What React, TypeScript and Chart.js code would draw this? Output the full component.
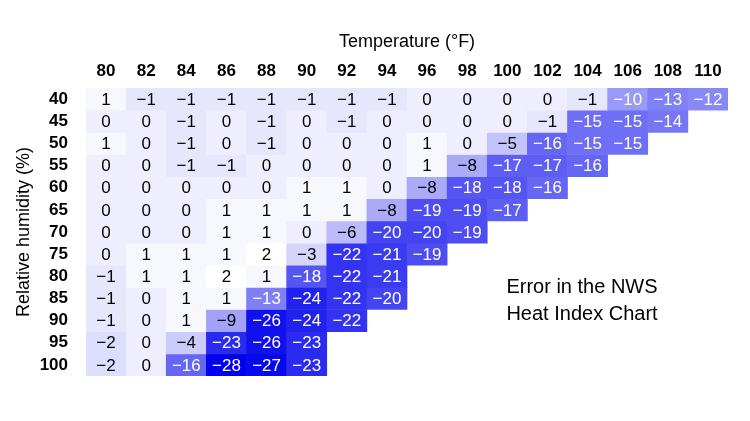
import { useEffect, useRef } from 'react';
import { Chart, registerables } from 'chart.js';

Chart.register(...registerables);

const FONT = '"Liberation Sans", Arial, Helvetica, sans-serif';

const temperatures = ['80', '82', '84', '86', '88', '90', '92', '94', '96', '98', '100', '102', '104', '106', '108', '110'];
const humidities = ['40', '45', '50', '55', '60', '65', '70', '75', '80', '85', '90', '95', '100'];

const rh40 = [1, -1, -1, -1, -1, -1, -1, -1, 0, 0, 0, 0, -1, -10, -13, -12];
const rh45 = [0, 0, -1, 0, -1, 0, -1, 0, 0, 0, 0, -1, -15, -15, -14];
const rh50 = [1, 0, -1, 0, -1, 0, 0, 0, 1, 0, -5, -16, -15, -15];
const rh55 = [0, 0, -1, -1, 0, 0, 0, 0, 1, -8, -17, -17, -16];
const rh60 = [0, 0, 0, 0, 0, 1, 1, 0, -8, -18, -18, -16];
const rh65 = [0, 0, 0, 1, 1, 1, 1, -8, -19, -19, -17];
const rh70 = [0, 0, 0, 1, 1, 0, -6, -20, -20, -19];
const rh75 = [0, 1, 1, 1, 2, -3, -22, -21, -19];
const rh80 = [-1, 1, 1, 2, 1, -18, -22, -21];
const rh85 = [-1, 0, 1, 1, -13, -24, -22, -20];
const rh90 = [-1, 0, 1, -9, -26, -24, -22];
const rh95 = [-2, 0, -4, -23, -26, -23];
const rh100 = [-2, 0, -16, -28, -27, -23];

const errorRows: number[][] = [rh40, rh45, rh50, rh55, rh60, rh65, rh70, rh75, rh80, rh85, rh90, rh95, rh100];

const noteLines = ['Error in the NWS', 'Heat Index Chart'];

function cellColor(v: number | undefined): string {
  if (v === undefined || v === null) return 'rgba(0,0,0,0)';
  let t = (2 - v) / 30;
  t = Math.max(0, Math.min(1, t));
  const rg = Math.round(255 * (1 - t));
  const b = Math.round(255 - 18 * t);
  return `rgb(${rg},${rg},${b})`;
}

function fmt(v: number): string {
  return v < 0 ? '\u2212' + Math.abs(v) : String(v);
}

const cellLabels = {
  id: 'cellLabels',
  afterDatasetsDraw(chart: any) {
    const ctx = chart.ctx;
    ctx.save();
    ctx.font = `17px ${FONT}`;
    ctx.textAlign = 'center';
    ctx.textBaseline = 'middle';
    chart.data.datasets.forEach((_ds: any, i: number) => {
      const meta = chart.getDatasetMeta(i);
      meta.data.forEach((el: any, j: number) => {
        const v = errorRows[i][j];
        if (v === undefined || v === null) return;
        const p = el.getCenterPoint();
        ctx.fillStyle = v <= -10 ? '#ffffff' : '#000000';
        ctx.fillText(fmt(v), p.x, p.y + 1);
      });
    });
    ctx.restore();
  },
};

const noteText = {
  id: 'noteText',
  afterDraw(chart: any) {
    const ctx = chart.ctx;
    ctx.save();
    ctx.font = `20px ${FONT}`;
    ctx.textAlign = 'center';
    ctx.textBaseline = 'middle';
    ctx.fillStyle = '#000';
    noteLines.forEach((line, k) => {
      ctx.fillText(line, 582, 287 + k * 27);
    });
    ctx.restore();
  },
};

export default function App() {
  const canvasRef = useRef<HTMLCanvasElement | null>(null);

  useEffect(() => {
    if (!canvasRef.current) return;
    const datasets = humidities.map((h, i) => ({
      label: h,
      data: temperatures.map((_, j) => (errorRows[i][j] === undefined ? null : [i - 0.5, i + 0.5])),
      backgroundColor: temperatures.map((_, j) => cellColor(errorRows[i][j])),
      grouped: false,
      barPercentage: 1,
      categoryPercentage: 1,
      borderWidth: 0,
    }));

    const chart = new Chart(canvasRef.current, {
      type: 'bar',
      data: { labels: temperatures, datasets: datasets as any },
      options: {
        animation: false,
        responsive: true,
        maintainAspectRatio: false,
        layout: { padding: { left: 0, top: 0, right: 22, bottom: 45 } },
        plugins: {
          legend: { display: false },
          tooltip: { enabled: false },
        },
        scales: {
          x: {
            type: 'category',
            position: 'top',
            offset: true,
            grid: { display: false, drawTicks: false },
            border: { display: false },
            ticks: {
              font: { family: FONT, size: 17, weight: 'bold' },
              color: '#000',
              padding: 6,
              maxRotation: 0,
              autoSkip: false,
            },
            title: {
              display: true,
              text: 'Temperature (°F)',
              font: { family: FONT, size: 18 },
              color: '#000',
              padding: { top: 31, bottom: 0 },
            },
            afterFit: (s: any) => {
              s.height = 88;
            },
          },
          y: {
            type: 'linear',
            reverse: true,
            min: -0.5,
            max: 12.5,
            grid: { display: false, drawTicks: false },
            border: { display: false },
            afterBuildTicks: (s: any) => {
              s.ticks = humidities.map((_, i) => ({ value: i }));
            },
            ticks: {
              callback: (v: any) => humidities[v as number],
              font: { family: FONT, size: 17, weight: 'bold' },
              color: '#000',
              padding: 18,
              autoSkip: false,
            },
            title: {
              display: true,
              text: 'Relative humidity (%)',
              font: { family: FONT, size: 18 },
              color: '#000',
              padding: { top: 13, bottom: 0 },
            },
            afterFit: (s: any) => {
              s.width = 86;
            },
          },
        },
      } as any,
      plugins: [cellLabels, noteText],
    });
    return () => chart.destroy();
  }, []);

  return (
    <div style={{ position: 'fixed', left: 0, top: 0, width: 750, height: 421, background: '#fff' }}>
      <canvas ref={canvasRef} />
    </div>
  );
}
